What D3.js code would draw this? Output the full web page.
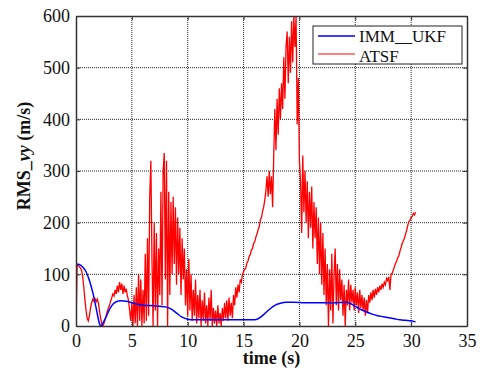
<!DOCTYPE html>
<html><head><meta charset="utf-8">
<script src="https://cdn.jsdelivr.net/npm/d3@7/dist/d3.min.js"></script>
<style>html,body{margin:0;padding:0;background:#fff;}svg{display:block;}</style>
</head><body>
<script>
// ---- data ----
const xTicks = [0,5,10,15,20,25,30,35];
const yTicks = [0,100,200,300,400,500,600];
const seriesNames = ["IMM__UKF","ATSF"];
// IMM_UKF: [time, value]
const immUkf = [[0,120],[0.3,119],[0.6,114],[0.9,105],[1.2,88],[1.5,65],[1.8,35],[2.1,5],[2.2,0],[2.4,5],[2.7,18],[3.0,32],[3.3,42],[3.6,47],[4.0,49],[4.5,48],[5.0,45],[5.5,42],[6.0,40],[7.0,39],[7.5,38],[8.0,37],[8.5,33],[9.0,25],[9.5,17],[10.0,13],[10.5,12],[11,12],[13,12],[14,12],[15,12],[16,12],[16.3,14],[16.8,22],[17.3,32],[17.8,40],[18.3,44],[18.8,46],[19.5,46],[20.5,45],[22,45],[23,45],[24.2,46],[24.6,43],[25,38],[25.5,32],[26,27],[26.5,23],[27,20],[27.5,18],[28,16],[28.5,14],[29,12],[29.5,11],[30,10],[30.4,8]];
// ATSF: values sampled every 0.1 s starting at t = 0
const atsfStep = 0.1;
const atsf = [0,118,117,115,112,108,95,75,50,30,15,10,20,35,45,52,48,53,47,52,
45,30,15,5,0,5,12,20,28,35,40,48,55,62,58,70,62,78,65,85,
70,82,62,78,65,72,58,50,30,10,45,0,60,5,75,0,100,10,90,0,
70,5,140,10,170,20,250,320,130,0,200,30,180,0,150,60,260,40,300,335,
90,320,0,260,60,240,100,250,120,230,80,210,100,190,60,170,90,150,40,110,
20,130,30,100,10,70,20,90,5,60,15,70,0,50,10,65,5,40,0,55,
10,70,0,35,5,30,0,40,5,25,0,35,10,45,15,50,10,55,20,45,
15,60,40,75,55,80,65,90,85,100,105,110,112,122,126,135,138,147,150,160,
163,172,178,186,192,205,210,222,230,244,262,290,250,300,255,290,230,330,420,340,
440,370,460,400,470,420,520,440,540,570,470,560,490,590,510,600,540,600,390,480,
320,280,180,330,220,300,200,280,170,260,190,270,150,240,170,230,120,210,100,200,
80,180,60,150,40,120,0,110,30,140,5,100,150,40,120,30,110,50,90,20,
80,0,70,40,90,30,80,45,70,30,75,40,65,25,70,35,60,30,55,20,
50,25,60,45,65,50,70,55,72,60,75,65,78,70,82,75,85,80,92,88,
95,70,100,102,108,115,121,126,132,136,145,152,160,165,170,178,185,195,202,205,
210,212,218,215,220];

// ---- chart ----
const W = 483, H = 374;
const mLeft = 76, mRight = 467, mTop = 16, mBottom = 326;
const svg = d3.select("body").append("svg").attr("width", W).attr("height", H);
const x = d3.scaleLinear().domain([0,35]).range([mLeft,mRight]);
const y = d3.scaleLinear().domain([0,600]).range([mBottom,mTop]);
const font = "'Liberation Serif','Times New Roman',serif";

// grid
const grid = svg.append("g").attr("stroke","#222").attr("stroke-width",1).attr("stroke-dasharray","1,1");
xTicks.slice(1,-1).forEach(t => grid.append("line").attr("x1",x(t)).attr("x2",x(t)).attr("y1",mTop).attr("y2",mBottom));
yTicks.slice(1,-1).forEach(t => grid.append("line").attr("x1",mLeft).attr("x2",mRight).attr("y1",y(t)).attr("y2",y(t)));

// clip
svg.append("clipPath").attr("id","clip").append("rect").attr("x",mLeft).attr("y",mTop).attr("width",mRight-mLeft).attr("height",mBottom-mTop);

const redData = atsf.map((v,i) => [i*atsfStep, v]);
const lineR = d3.line().x(d => x(d[0])).y(d => y(d[1]));
svg.append("path").attr("clip-path","url(#clip)").datum(redData)
  .attr("d", lineR).attr("fill","none").attr("stroke","#ff0000").attr("stroke-width",1.3);
const lineB = d3.line().x(d => x(d[0])).y(d => y(d[1])).curve(d3.curveMonotoneX);
svg.append("path").attr("clip-path","url(#clip)").datum(immUkf)
  .attr("d", lineB).attr("fill","none").attr("stroke","#0000ff").attr("stroke-width",1.5);

// axes (MATLAB style, inward ticks)
const xb = svg.append("g").attr("transform",`translate(0,${mBottom})`)
  .call(d3.axisBottom(x).tickValues(xTicks).tickSize(-4).tickPadding(8).tickSizeOuter(0));
const yl = svg.append("g").attr("transform",`translate(${mLeft},0)`)
  .call(d3.axisLeft(y).tickValues(yTicks).tickSize(-4).tickPadding(6).tickSizeOuter(0));
const xt = svg.append("g").attr("transform",`translate(0,${mTop})`)
  .call(d3.axisTop(x).tickValues(xTicks).tickSize(-4).tickFormat("").tickSizeOuter(0));
const yr = svg.append("g").attr("transform",`translate(${mRight},0)`)
  .call(d3.axisRight(y).tickValues(yTicks).tickSize(-4).tickFormat("").tickSizeOuter(0));
[xb,yl,xt,yr].forEach(g => {
  g.selectAll(".domain").attr("stroke","#333").attr("stroke-width",1.5);
  g.selectAll(".tick line").attr("stroke","#333");
  g.selectAll("text").attr("font-family",font).attr("font-size",18).attr("fill","#111");
});

// axis labels
svg.append("text").attr("x",(mLeft+mRight)/2).attr("y",364).attr("text-anchor","middle")
  .attr("font-family",font).attr("font-size",18).attr("font-weight","bold").attr("fill","#111").text("time (s)");
const yLab = svg.append("text").attr("transform",`translate(30,156) rotate(-90)`).attr("text-anchor","middle")
  .attr("font-family",font).attr("font-size",18).attr("font-weight","bold").attr("fill","#111");
yLab.append("tspan").text("RMS_");
yLab.append("tspan").attr("font-style","italic").text("vy");
yLab.append("tspan").text(" (m/s)");

// legend
const lg = svg.append("g");
lg.append("rect").attr("x",313).attr("y",26).attr("width",149).attr("height",38)
  .attr("fill","#fff").attr("stroke","#222").attr("stroke-width",1);
const colors = ["#0000ff","#ff0000"];
const lys = [36,54];
const tys = [42,62];
seriesNames.forEach((n,i) => {
  lg.append("line").attr("x1",318).attr("x2",355).attr("y1",lys[i]).attr("y2",lys[i])
    .attr("stroke",colors[i]).attr("stroke-width", i===0?1.5:1);
  lg.append("text").attr("x",359).attr("y",tys[i]).attr("font-family",font).attr("font-size",17)
    .attr("fill","#111").text(n);
});
</script>
</body></html>
